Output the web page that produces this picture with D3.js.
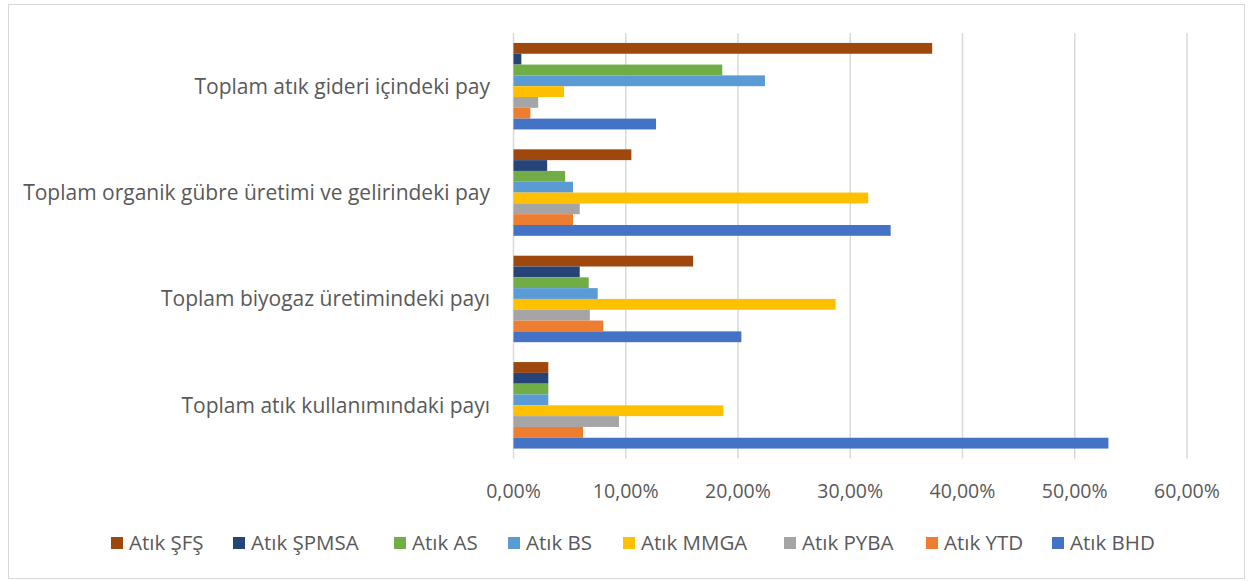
<!DOCTYPE html>
<html>
<head>
<meta charset="utf-8">
<script src="https://cdn.jsdelivr.net/npm/d3@7"></script>
<style>
  body { margin: 0; background: #fff; }
  text { font-family: "Open Sans", Lato, sans-serif; fill: #595959; }
</style>
</head>
<body>
<svg width="1248" height="581"></svg>
<script>
// categories, top to bottom
const categories = [
    "Toplam atık gideri içindeki pay",
    "Toplam organik gübre üretimi ve gelirindeki pay",
    "Toplam biyogaz üretimindeki payı",
    "Toplam atık kullanımındaki payı"
];
const seriesNames = ["Atık ŞFŞ", "Atık ŞPMSA", "Atık AS", "Atık BS", "Atık MMGA", "Atık PYBA", "Atık YTD", "Atık BHD"];
const seriesColors = ["#9E480E", "#264478", "#70AD47", "#5B9BD5", "#FFC000", "#A5A5A5", "#ED7D31", "#4472C4"];

// values per series, in category order (as fractions)
const sfs   = [0.373, 0.105, 0.160, 0.031];
const spmsa = [0.007, 0.030, 0.059, 0.031];
const as    = [0.186, 0.046, 0.067, 0.031];
const bs    = [0.224, 0.053, 0.075, 0.031];
const mmga  = [0.045, 0.316, 0.287, 0.187];
const pyba  = [0.022, 0.059, 0.068, 0.094];
const ytd   = [0.015, 0.053, 0.080, 0.062];
const bhd   = [0.127, 0.336, 0.203, 0.530];
const seriesValues = [sfs, spmsa, as, bs, mmga, pyba, ytd, bhd];

const xTicks = [0, 0.1, 0.2, 0.3, 0.4, 0.5, 0.6];

const svg = d3.select("svg");

// chart border
svg.append("rect")
    .attr("x", 8.5).attr("y", 4.5)
    .attr("width", 1236).attr("height", 574)
    .attr("fill", "none")
    .attr("stroke", "#d9d9d9");

const x = d3.scaleLinear().domain([0, 0.6]).range([513.5, 1187]);
const y = d3.scaleBand().domain(categories).range([33, 458.5])
    .paddingInner(0.187).paddingOuter(0.0935);
const ySub = d3.scaleBand().domain(seriesNames).range([0, y.bandwidth()]);

// gridlines
svg.append("g")
    .selectAll("line")
    .data(xTicks)
    .enter()
    .append("line")
    .attr("x1", d => x(d)).attr("x2", d => x(d))
    .attr("y1", 33).attr("y2", 458.5)
    .attr("stroke", "#d9d9d9")
    .attr("stroke-width", 1.5);

// bars
const rows = [];
seriesNames.forEach((s, i) => {
    categories.forEach((c, j) => {
        rows.push({series: s, cat: c, value: seriesValues[i][j], color: seriesColors[i]});
    });
});

svg.append("g")
    .selectAll("rect")
    .data(rows)
    .enter()
    .append("rect")
    .attr("x", x(0))
    .attr("y", d => y(d.cat) + ySub(d.series))
    .attr("width", d => x(d.value) - x(0))
    .attr("height", ySub.bandwidth())
    .attr("fill", d => d.color);

// category labels
svg.append("g")
    .selectAll("text")
    .data(categories)
    .enter()
    .append("text")
    .attr("x", 490)
    .attr("y", d => y(d) + y.bandwidth() / 2)
    .attr("dy", "0.35em")
    .attr("text-anchor", "end")
    .style("font-size", "21px")
    .text(d => d);

// x tick labels
const fmt = d => d3.format(".2f")(d * 100).replace(".", ",") + "%";
svg.append("g")
    .selectAll("text")
    .data(xTicks)
    .enter()
    .append("text")
    .attr("x", d => x(d))
    .attr("y", 491)
    .attr("dy", "0.35em")
    .attr("text-anchor", "middle")
    .style("font-size", "19.5px")
    .text(fmt);

// legend
const legendX = [111, 233, 394, 508, 623, 784, 926, 1052];
const legend = svg.append("g")
    .selectAll("g")
    .data(seriesNames)
    .enter()
    .append("g")
    .attr("transform", (d, i) => `translate(${legendX[i]},543)`);
legend.append("rect")
    .attr("x", 0).attr("y", -6)
    .attr("width", 12).attr("height", 12)
    .attr("fill", (d, i) => seriesColors[i]);
legend.append("text")
    .attr("x", 18)
    .attr("dy", "0.35em")
    .style("font-size", "20.5px")
    .text(d => d);
</script>
</body>
</html>
